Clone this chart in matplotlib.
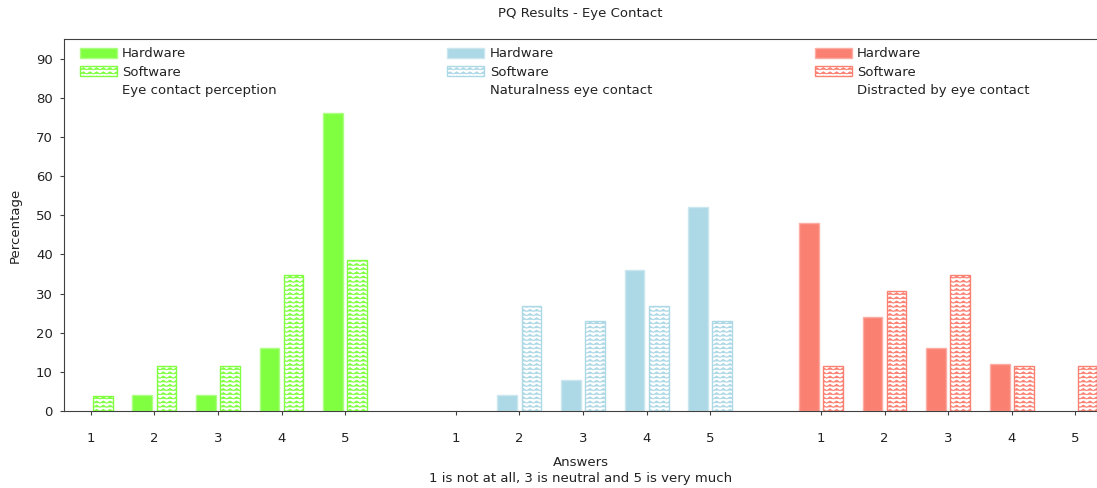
import numpy as np
import matplotlib
matplotlib.use('Agg')
import matplotlib.pyplot as plt
import matplotlib.hatch as mhatch
from matplotlib.path import Path
from matplotlib.patches import Patch
from matplotlib.legend import Legend
from matplotlib.colors import to_rgb

answers = [1, 2, 3, 4, 5]
questions = ['Eye contact perception', 'Naturalness eye contact', 'Distracted by eye contact']
colors = ['#7fff3f', '#add8e6', '#fa8072']
hardware = [
    [0, 4, 4, 16, 76],
    [0, 4, 8, 36, 52],
    [48, 24, 16, 12, 0],
]
software = [
    [3.85, 11.54, 11.54, 34.62, 38.46],
    [0, 26.92, 23.08, 26.92, 23.08],
    [11.54, 30.77, 34.62, 11.54, 11.54],
]


# zigzag hatch, used in place of the '-' hatch
class ZigzagHatch(mhatch.HatchPatternBase):
    def __init__(self, hatch, density):
        self.num_rows = int(hatch.count('-') * density)
        self.peaks = 15
        self.num_vertices = self.num_rows * (2 * self.peaks + 1)

    def set_vertices_and_codes(self, vertices, codes):
        n = 2 * self.peaks + 1
        xs = np.linspace(0, 1, n)
        amp = 0.25 / self.num_rows
        for i in range(self.num_rows):
            y0 = (i + 0.5) / self.num_rows
            ys = y0 + np.where(np.arange(n) % 2 == 0, -amp, amp)
            vertices[i * n:(i + 1) * n, 0] = xs
            vertices[i * n:(i + 1) * n, 1] = ys
            codes[i * n] = Path.MOVETO
            codes[i * n + 1:(i + 1) * n] = Path.LINETO


mhatch._hatch_types = [ZigzagHatch if h is mhatch.HorizontalHatch else h
                       for h in mhatch._hatch_types]


def lighter(c, f):
    r = np.array(to_rgb(c))
    return tuple(r + (1 - r) * f)


plt.rcParams['hatch.linewidth'] = 0.7
plt.rcParams['font.family'] = 'DejaVu Sans'
text_col = '#222222'

fig = plt.figure(figsize=(10.97, 4.88), dpi=100)
ax = fig.add_axes([64 / 1097, 1 - 411 / 488, 1 - 64 / 1097, 372 / 488])

group_gap = 5.74
w = 0.31
off = 0.19
ticks = []
for g in range(3):
    x = np.arange(len(answers)) + g * group_gap
    ticks.extend(x)
    hw_style = dict(facecolor=colors[g], edgecolor=lighter(colors[g], 0.35), linewidth=1)
    sw_style = dict(facecolor='white', edgecolor=colors[g], linewidth=1, hatch='----')
    hb = ax.bar(x - off, hardware[g], w, **hw_style)
    sb = ax.bar(x + off, software[g], w, **sw_style)
    # hide empty bars so no edge line is left on the axis
    for p in list(hb) + list(sb):
        if p.get_height() == 0:
            p.set_visible(False)
    handles = [Patch(**hw_style), Patch(**sw_style),
               Patch(facecolor='none', edgecolor='none')]
    leg = Legend(ax, handles, ['Hardware', 'Software', questions[g]],
                 loc='upper left', bbox_to_anchor=(0.0155 + g * 0.3557, 0.978),
                 frameon=False, fontsize=9.5, borderpad=0, borderaxespad=0,
                 handlelength=2.8, handleheight=0.8, handletextpad=0.4,
                 labelspacing=0.42, labelcolor=text_col)
    ax.add_artist(leg)

ax.set_xticks(ticks)
ax.set_xticklabels(answers * 3)
ax.set_xlim(-0.42, 15.82)
ax.set_ylim(0, 95)
ax.set_yticks(np.arange(0, 91, 10))

ax.spines['right'].set_visible(False)
for s in ['left', 'top', 'bottom']:
    ax.spines[s].set_color('#404040')
ax.tick_params(axis='x', length=3, pad=12, labelsize=9.5, colors='#404040',
               labelcolor=text_col)
ax.tick_params(axis='y', length=3, pad=5, labelsize=9.5, colors='#404040',
               labelcolor=text_col)

ax.set_xlabel('Answers\n1 is not at all, 3 is neutral and 5 is very much',
              fontsize=9.5, color=text_col, labelpad=8, linespacing=1.3)
ax.set_ylabel('Percentage', fontsize=9.5, color=text_col, labelpad=10)
fig.text((64 + 1097) / 2 / 1097, 1 - 13 / 488, 'PQ Results - Eye Contact',
         ha='center', va='center', fontsize=9.5, color=text_col)

fig.savefig('out.png', dpi=100)
